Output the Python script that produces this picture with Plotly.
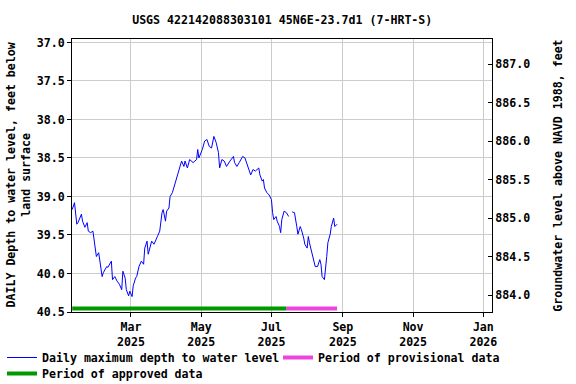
import plotly.graph_objects as go

dates = ["2025-01-09","2025-01-11","2025-01-13","2025-01-14","2025-01-17","2025-01-18","2025-01-20","2025-01-22","2025-01-23","2025-01-25",
         "2025-01-27","2025-01-29","2025-01-30","2025-02-01","2025-02-02","2025-02-04","2025-02-05","2025-02-08","2025-02-09","2025-02-12",
         "2025-02-13","2025-02-15","2025-02-17","2025-02-19","2025-02-21","2025-02-22","2025-02-24","2025-02-25","2025-02-27","2025-02-28",
         "2025-03-02","2025-03-03","2025-03-05","2025-03-06","2025-03-08","2025-03-10","2025-03-12","2025-03-13","2025-03-15","2025-03-16",
         "2025-03-19","2025-03-21","2025-03-24","2025-03-26","2025-03-28","2025-03-29","2025-03-31","2025-04-01","2025-04-03","2025-04-04",
         "2025-04-06","2025-04-08","2025-04-10","2025-04-12","2025-04-14","2025-04-16","2025-04-17","2025-04-19","2025-04-21","2025-04-24",
         "2025-04-27","2025-04-28","2025-04-29","2025-05-02","2025-05-04","2025-05-06","2025-05-08","2025-05-10","2025-05-12","2025-05-14",
         "2025-05-16","2025-05-17","2025-05-19","2025-05-21","2025-05-23","2025-05-26","2025-05-29","2025-05-30","2025-06-01","2025-06-03",
         "2025-06-06","2025-06-08","2025-06-10","2025-06-12","2025-06-13","2025-06-15","2025-06-17","2025-06-20","2025-06-21","2025-06-23",
         "2025-06-24","2025-06-25","2025-06-27","2025-06-29","2025-07-01","2025-07-02","2025-07-03","2025-07-05","2025-07-06","2025-07-08",
         "2025-07-09","2025-07-10","2025-07-12","2025-07-14","2025-07-16","2025-07-17","2025-07-19","2025-07-21","2025-07-23","2025-07-24",
         "2025-07-26","2025-07-27","2025-07-29","2025-07-30","2025-08-01","2025-08-02","2025-08-03","2025-08-05","2025-08-07","2025-08-08",
         "2025-08-10","2025-08-12","2025-08-13","2025-08-14","2025-08-16","2025-08-17","2025-08-18","2025-08-19","2025-08-21","2025-08-22",
         "2025-08-24","2025-08-25","2025-08-27"]

depth = [39.17,39.08,39.36,39.34,39.23,39.32,39.40,39.34,39.45,39.47,
         39.45,39.66,39.78,39.73,39.84,40.04,39.99,39.91,39.92,39.84,
         40.08,40.04,40.10,40.14,40.21,39.97,40.06,40.21,40.29,40.23,
         40.30,40.16,40.06,40.04,39.91,39.84,39.88,39.67,39.58,39.75,
         39.58,39.62,39.52,39.45,39.21,39.17,39.32,39.19,39.15,39.00,
         38.95,38.85,38.76,38.63,38.54,38.61,38.54,38.63,38.52,38.56,
         38.52,38.39,38.50,38.39,38.28,38.26,38.35,38.37,38.22,38.30,
         38.43,38.63,38.52,38.54,38.61,38.54,38.48,38.56,38.61,38.56,
         38.48,38.50,38.59,38.67,38.72,38.65,38.67,38.63,38.72,38.80,
         38.78,38.89,38.95,38.98,39.04,39.21,39.30,39.26,39.32,39.39,
         39.47,39.30,39.19,39.21,39.26,None,39.20,39.21,39.39,39.49,
         39.39,39.43,39.54,39.62,39.67,39.52,39.60,39.73,39.82,39.91,
         39.91,39.82,39.88,40.04,40.08,39.95,39.78,39.60,39.49,39.39,
         39.28,39.39,39.36]

assert len(dates) == len(depth)

approved_period = ["2025-01-09", "2025-07-14"]
provisional_period = ["2025-07-14", "2025-08-27"]
period_bar_level = [40.455, 40.455]

datum = 924.28  # land surface elevation (NAVD 1988), ft
left_range = [40.5, 36.955]
right_range = [datum - left_range[0], datum - left_range[1]]

FONT = "DejaVu Sans Mono"
fs = 11.6

fig = go.Figure()
fig.add_trace(go.Scatter(x=dates, y=depth, mode="lines", line=dict(color="#0000ff", width=1),
                         name="Daily maximum depth to water level", connectgaps=False,
                         legend="legend"))
fig.add_trace(go.Scatter(x=provisional_period, y=period_bar_level, mode="lines",
                         line=dict(color="#ee44dd", width=4), name="Period of provisional data",
                         legend="legend2"))
fig.add_trace(go.Scatter(x=approved_period, y=period_bar_level, mode="lines",
                         line=dict(color="#009900", width=4), name="Period of approved data",
                         legend="legend3"))
# invisible trace for right axis
fig.add_trace(go.Scatter(x=[dates[0]], y=[datum - depth[0]], yaxis="y2", mode="lines",
                         line=dict(width=0), showlegend=False, hoverinfo="skip", opacity=0))

def leg(x_px, top_px):
    return dict(orientation="h", xref="container", yref="container",
                x=x_px / 576, xanchor="left", y=1 - top_px / 384, yanchor="top",
                font=dict(family=FONT, size=fs, weight="bold"), bgcolor="rgba(0,0,0,0)",
                borderwidth=0)

fig.update_layout(
    width=576, height=384,
    margin=dict(l=72, r=84, t=39, b=72, autoexpand=False),
    paper_bgcolor="white", plot_bgcolor="white",
    font=dict(family=FONT, size=fs, color="black", weight="bold"),
    title=dict(text="USGS 422142088303101 45N6E-23.7d1 (7-HRT-S)", x=0.49, xanchor="center",
               y=1 - 20/384, yanchor="middle", font=dict(family=FONT, size=fs, weight="bold")),
    xaxis=dict(range=["2025-01-08 20:00", "2026-01-08 12:00"], type="date", automargin=False,
               tick0="2025-01-01", dtick="M2", tickformat="%b<br>%Y",
               showgrid=True, gridcolor="#cccccc", gridwidth=1,
               showline=True, linecolor="black", linewidth=1, mirror=True,
               ticks="outside", ticklen=4, tickcolor="black", zeroline=False),
    yaxis=dict(range=left_range, dtick=0.5, tick0=37.0, tickformat=".1f", automargin=False,
               showgrid=True, gridcolor="#cccccc", gridwidth=1,
               showline=True, linecolor="black", linewidth=1,
               ticks="outside", ticklen=4, tickcolor="black", zeroline=False),
    yaxis2=dict(range=right_range, overlaying="y", side="right", dtick=0.5, tick0=884.0,
                tickformat=".1f", showgrid=False, showline=True, linecolor="black", linewidth=1,
                ticks="inside", ticklen=4, tickcolor="black", zeroline=False, automargin=False,
                title=dict(text="Groundwater level above NAVD 1988, feet", standoff=24,
                           font=dict(size=fs))),
    legend=leg(2, 343),
    legend2=leg(278, 343),
    legend3=leg(2, 359),
    showlegend=True,
    annotations=[dict(text="DAILY Depth to water level, feet below<br>land surface",
                      xref="paper", yref="paper", x=(18 - 72) / 420, y=0.5,
                      xanchor="center", yanchor="middle", textangle=-90, showarrow=False,
                      font=dict(family=FONT, size=fs, weight="bold"))],
)

fig.write_html("out.html")
